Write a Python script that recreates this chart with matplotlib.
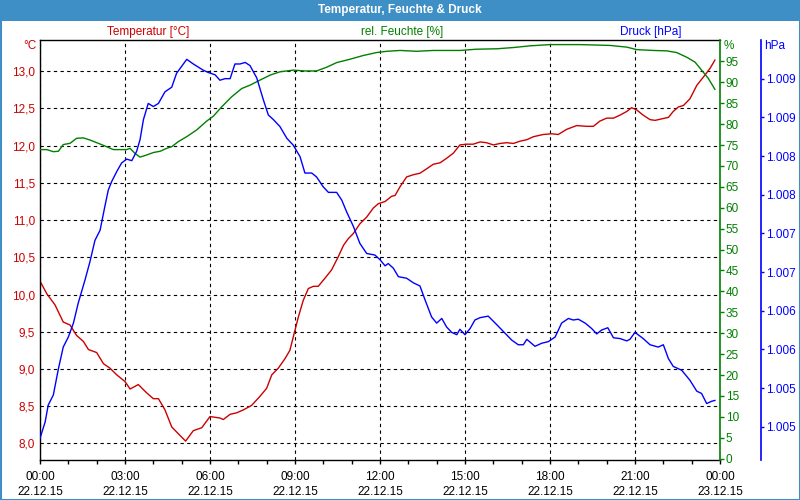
import matplotlib
matplotlib.use('Agg')
import matplotlib.pyplot as plt
from matplotlib.patches import Rectangle
from matplotlib.ticker import FuncFormatter, MultipleLocator

# --- data (hours since 22.12.15 00:00) ---
temp_h = [0.00, 0.24, 0.53, 0.82, 1.06, 1.29, 1.53, 1.71, 2.00, 2.24, 2.47, 2.71, 3.00, 3.18,
          3.47, 3.76, 4.00, 4.18, 4.41, 4.65, 4.88, 5.14, 5.41, 5.71, 6.00, 6.35, 6.47, 6.71,
          6.94, 7.18, 7.47, 7.76, 8.00, 8.18, 8.41, 8.65, 8.82, 8.94, 9.12, 9.29, 9.47, 9.65,
          9.82, 10.06, 10.29, 10.53, 10.71, 10.88, 11.06, 11.29, 11.53, 11.76, 11.94, 12.18,
          12.41, 12.53, 12.71, 12.94, 13.18, 13.41, 13.65, 13.88, 14.12, 14.35, 14.59, 14.82,
          15.06, 15.29, 15.53, 15.76, 16.00, 16.24, 16.47, 16.71, 16.94, 17.18, 17.41, 17.76,
          18.06, 18.29, 18.59, 18.94, 19.29, 19.53, 19.76, 20.00, 20.24, 20.47, 20.71, 20.88,
          21.06, 21.29, 21.53, 21.71, 21.94, 22.18, 22.35, 22.53, 22.71, 22.94, 23.18, 23.41,
          23.65, 23.82]
temp = [10.18, 10.01, 9.86, 9.63, 9.59, 9.45, 9.37, 9.26, 9.22, 9.07, 9.01, 8.92, 8.83, 8.73,
        8.79, 8.68, 8.60, 8.60, 8.45, 8.22, 8.13, 8.03, 8.17, 8.21, 8.36, 8.34, 8.32, 8.39,
        8.41, 8.45, 8.51, 8.63, 8.74, 8.92, 9.01, 9.14, 9.25, 9.43, 9.70, 9.92, 10.08, 10.11,
        10.11, 10.22, 10.33, 10.51, 10.66, 10.75, 10.82, 10.95, 11.04, 11.16, 11.22, 11.25,
        11.32, 11.33, 11.45, 11.58, 11.61, 11.63, 11.69, 11.75, 11.77, 11.83, 11.90, 12.01,
        12.02, 12.02, 12.05, 12.04, 12.01, 12.03, 12.04, 12.03, 12.06, 12.08, 12.12, 12.15,
        12.16, 12.15, 12.22, 12.27, 12.26, 12.26, 12.33, 12.37, 12.37, 12.41, 12.46, 12.51,
        12.48, 12.41, 12.35, 12.34, 12.36, 12.38, 12.46, 12.52, 12.54, 12.63, 12.81, 12.92,
        13.04, 13.15]

hum_h = [0.00, 0.24, 0.47, 0.65, 0.82, 1.06, 1.29, 1.53, 1.76, 2.06, 2.35, 2.59, 3.06, 3.18,
         3.35, 3.53, 3.76, 4.00, 4.24, 4.47, 4.65, 4.88, 5.18, 5.53, 5.88, 6.12, 6.41, 6.76,
         7.12, 7.41, 7.76, 8.12, 8.47, 8.94, 9.35, 9.76, 10.12, 10.47, 10.94, 11.41, 11.88,
         12.24, 12.71, 13.29, 13.88, 14.82, 15.41, 16.12, 16.71, 17.29, 18.00, 19.06, 20.12,
         20.71, 21.06, 21.65, 22.12, 22.47, 22.82, 23.12, 23.35, 23.59, 23.82]
hum = [73.9, 73.9, 73.4, 73.5, 75.1, 75.4, 76.6, 76.7, 76.2, 75.4, 74.6, 73.9, 73.9, 74.2,
       73.0, 72.1, 72.6, 73.2, 73.5, 74.2, 74.6, 75.8, 77.0, 78.6, 80.7, 81.9, 84.1, 86.5,
       88.5, 89.3, 90.5, 91.7, 92.5, 92.9, 92.7, 92.7, 93.6, 94.7, 95.5, 96.4, 97.1,
       97.4, 97.6, 97.4, 97.6, 97.6, 97.9, 98.0, 98.3, 98.7, 99.0, 99.0, 98.8,
       98.4, 97.8, 97.6, 97.5, 97.1, 96.0, 94.8, 92.9, 90.9, 88.3]

pres_h = [0.00, 0.18, 0.29, 0.47, 0.65, 0.82, 1.00, 1.18, 1.35, 1.59, 1.76, 1.94, 2.12, 2.29,
          2.41, 2.53, 2.71, 2.88, 3.06, 3.24, 3.41, 3.53, 3.65, 3.82, 4.00, 4.18, 4.41, 4.65,
          4.82, 5.00, 5.18, 5.41, 5.76, 5.94, 6.18, 6.35, 6.53, 6.71, 6.88, 7.06, 7.24, 7.41,
          7.65, 7.88, 8.06, 8.24, 8.47, 8.71, 8.94, 9.18, 9.35, 9.59, 9.76, 10.00, 10.18, 10.47,
          10.65, 10.82, 11.06, 11.29, 11.53, 11.82, 12.00, 12.18, 12.29, 12.47, 12.65, 12.94,
          13.18, 13.41, 13.59, 13.82, 14.00, 14.18, 14.35, 14.53, 14.71, 14.82, 15.00, 15.18,
          15.35, 15.53, 15.82, 16.12, 16.41, 16.65, 16.88, 17.06, 17.18, 17.47, 17.71, 17.94,
          18.18, 18.41, 18.65, 18.82, 19.00, 19.24, 19.47, 19.65, 19.82, 20.04, 20.24, 20.47,
          20.71, 20.82, 21.00, 21.29, 21.53, 21.82, 22.00, 22.18, 22.35, 22.65, 22.94, 23.18,
          23.35, 23.53, 23.71, 23.82]
pres = [1004.35, 1004.56, 1004.78, 1004.91, 1005.25, 1005.53, 1005.66, 1005.84, 1006.10,
        1006.40, 1006.63, 1006.91, 1007.04, 1007.35, 1007.56, 1007.67, 1007.80, 1007.91,
        1007.96, 1007.94, 1008.06, 1008.21, 1008.47, 1008.68, 1008.64, 1008.68, 1008.83,
        1008.89, 1009.07, 1009.16, 1009.25, 1009.19, 1009.11, 1009.08, 1009.05, 1008.98,
        1009.00, 1009.00, 1009.19, 1009.19, 1009.21, 1009.17, 1009.01, 1008.73, 1008.53,
        1008.47, 1008.38, 1008.23, 1008.14, 1007.99, 1007.78, 1007.78, 1007.73, 1007.60,
        1007.53, 1007.53, 1007.43, 1007.28, 1007.09, 1006.87, 1006.74, 1006.72, 1006.66,
        1006.58, 1006.61, 1006.55, 1006.44, 1006.42, 1006.36, 1006.32, 1006.14, 1005.92,
        1005.84, 1005.90, 1005.79, 1005.72, 1005.69, 1005.76, 1005.69, 1005.77, 1005.88,
        1005.91, 1005.93, 1005.82, 1005.71, 1005.62, 1005.56, 1005.56, 1005.63, 1005.54,
        1005.58, 1005.60, 1005.66, 1005.84, 1005.90, 1005.88, 1005.89, 1005.84, 1005.77,
        1005.70, 1005.75, 1005.78, 1005.65, 1005.64, 1005.61, 1005.63, 1005.72, 1005.64,
        1005.56, 1005.53, 1005.56, 1005.38, 1005.28, 1005.23, 1005.10, 1004.96, 1004.93,
        1004.80, 1004.83, 1004.84]

x_ticks = [0, 3, 6, 9, 12, 15, 18, 21, 24]
x_labels = ['00:00\n22.12.15', '03:00\n22.12.15', '06:00\n22.12.15', '09:00\n22.12.15',
            '12:00\n22.12.15', '15:00\n22.12.15', '18:00\n22.12.15', '21:00\n22.12.15',
            '00:00\n23.12.15']
pres_ticks = [1004.5, 1005.0, 1005.5, 1006.0, 1006.5, 1007.0, 1007.5, 1008.0, 1008.5, 1009.0]
pres_labels = ['1.005', '1.005', '1.006', '1.006', '1.007', '1.007', '1.008', '1.008', '1.009', '1.009']

RED = '#cc0000'
GREEN = '#008000'
BLUE = '#0000ff'
BAR = '#3d8fc6'

plt.rcParams['font.family'] = 'Liberation Sans'
plt.rcParams['font.size'] = 8.5

fig = plt.figure(figsize=(8, 5), dpi=100, facecolor='white')
ax = fig.add_axes([40/800, 40/500, 680/800, 420/500])
ax2 = ax.twinx()
ax3 = ax.twinx()

# temperature axis (left)
ax.plot(temp_h, temp, color=RED, lw=1)
ax.set_xlim(0, 24)
ax.set_ylim(7.776, 13.42)
ax.yaxis.set_major_locator(MultipleLocator(0.5))
ax.yaxis.set_major_formatter(FuncFormatter(lambda v, p: f'{v:.1f}'.replace('.', ',')))
ax.tick_params(axis='y', length=0, pad=3.5, labelcolor=RED, labelsize=8.5)
ax.set_xticks(x_ticks)
ax.set_xticklabels(x_labels, linespacing=1.3)
ax.set_xticks(range(25), minor=True)
ax.tick_params(axis='x', which='major', length=3, width=1, pad=5, labelsize=8.5, colors='black')
ax.tick_params(axis='x', which='minor', length=3, width=1)
ax.grid(True, color='black', linestyle=(0, (3, 3)), linewidth=0.8)
ax.spines['right'].set_visible(False)
for s in ['left', 'top', 'bottom']:
    ax.spines[s].set_linewidth(1)
    ax.spines[s].set_color('black')

# humidity axis
ax2.plot(hum_h, hum, color=GREEN, lw=1)
ax2.set_ylim(-0.3, 100.1)
ax2.set_yticks([v for v in range(0, 100, 5)])
ax2.tick_params(axis='y', length=3, width=1, pad=1, colors=GREEN, labelsize=8.5)
for s in ['left', 'top', 'bottom']:
    ax2.spines[s].set_visible(False)
ax2.spines['right'].set_color(GREEN)
ax2.spines['right'].set_linewidth(1.2)

# pressure axis, 40 px right of the plot
ax3.plot(pres_h, pres, color=BLUE, lw=1)
ax3.set_ylim(1004.07, 1009.50)
ax3.set_yticks(pres_ticks)
ax3.set_yticklabels(pres_labels)
ax3.spines['right'].set_position(('axes', 1 + 41/680))
ax3.spines['right'].set_color(BLUE)
ax3.spines['right'].set_linewidth(1.2)
for s in ['left', 'top', 'bottom']:
    ax3.spines[s].set_visible(False)
ax3.tick_params(axis='y', length=2, width=1, pad=1.5, colors=BLUE, labelsize=8.5)

# title bar and frame
fig.patches.append(Rectangle((0, 479/500), 1, 21/500, transform=fig.transFigure,
                             facecolor=BAR, edgecolor='none', zorder=0))
fig.patches.append(Rectangle((0, 0), 1, 1, transform=fig.transFigure,
                             facecolor='none', edgecolor=BAR, linewidth=2.2, zorder=0))
fig.text(0.5, 1 - 10/500, 'Temperatur, Feuchte & Druck', color='white', fontweight='bold',
         fontsize=8.5, ha='center', va='center')

# series headers and units
fig.text(148/800, 1 - 32/500, 'Temperatur [°C]', color=RED, ha='center', va='center')
fig.text(402/800, 1 - 32/500, 'rel. Feuchte [%]', color=GREEN, ha='center', va='center')
fig.text(651/800, 1 - 32/500, 'Druck [hPa]', color=BLUE, ha='center', va='center')
fig.text(37/800, 1 - 46/500, '°C', color=RED, ha='right', va='center')
fig.text(724/800, 1 - 46/500, '%', color=GREEN, ha='left', va='center')
fig.text(764/800, 1 - 46/500, 'hPa', color=BLUE, ha='left', va='center')

fig.savefig('out.png', dpi=100, facecolor='white')
